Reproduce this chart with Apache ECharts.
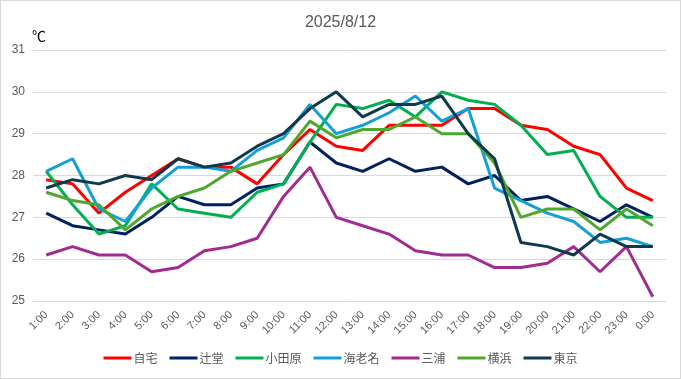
<!DOCTYPE html>
<html>
<head>
<meta charset="utf-8">
<script src="https://cdn.jsdelivr.net/npm/echarts@6/dist/echarts.min.js"></script>
<style>
html,body{margin:0;padding:0;background:#fff;}
#chart{width:681px;height:379px;box-sizing:border-box;border:1px solid #d9d9d9;}
</style>
</head>
<body>
<div id="chart"></div>
<script>
const title = '2025/8/12';
const unitLabel = '℃';
const hours = ['1:00','2:00','3:00','4:00','5:00','6:00','7:00','8:00','9:00','10:00','11:00','12:00','13:00','14:00','15:00','16:00','17:00','18:00','19:00','20:00','21:00','22:00','23:00','0:00'];
const seriesNames = ['自宅','辻堂','小田原','海老名','三浦','横浜','東京'];
const jitaku   = [27.9,27.8,27.1,27.6,28.0,28.4,28.2,28.2,27.8,28.5,29.1,28.7,28.6,29.2,29.2,29.2,29.6,29.6,29.2,29.1,28.7,28.5,27.7,27.4];
const tsujido  = [27.1,26.8,26.7,26.6,27.0,27.5,27.3,27.3,27.7,27.8,28.8,28.3,28.1,28.4,28.1,28.2,27.8,28.0,27.4,27.5,27.2,26.9,27.3,27.0];
const odawara  = [28.1,27.3,26.6,26.8,27.8,27.2,27.1,27.0,27.6,27.8,28.8,29.7,29.6,29.8,29.4,30.0,29.8,29.7,29.2,28.5,28.6,27.5,27.0,27.0];
const ebina    = [28.1,28.4,27.2,26.9,27.7,28.2,28.2,28.1,28.6,28.9,29.7,29.0,29.2,29.5,29.9,29.3,29.6,27.7,27.4,27.1,26.9,26.4,26.5,26.3];
const miura    = [26.1,26.3,26.1,26.1,25.7,25.8,26.2,26.3,26.5,27.5,28.2,27.0,26.8,26.6,26.2,26.1,26.1,25.8,25.8,25.9,26.3,25.7,26.3,25.1];
const yokohama = [27.6,27.4,27.3,26.7,27.2,27.5,27.7,28.1,28.3,28.5,29.3,28.9,29.1,29.1,29.4,29.0,29.0,28.3,27.0,27.2,27.2,26.7,27.2,26.8];
const tokyo    = [27.7,27.9,27.8,28.0,27.9,28.4,28.2,28.3,28.7,29.0,29.6,30.0,29.4,29.7,29.7,29.9,29.0,28.4,26.4,26.3,26.1,26.6,26.3,26.3];
const colors = ['#FF0000','#002060','#00B050','#12A0D7','#A02B93','#4EA72E','#0F3A4E'];
const allData = [jitaku,tsujido,odawara,ebina,miura,yokohama,tokyo];

const chart = echarts.init(document.getElementById('chart'), null, {renderer:'canvas'});
const font = '"Noto Sans CJK JP","Liberation Sans",sans-serif';
chart.setOption({
  animation:false,
  color:colors,
  textStyle:{fontFamily:font},
  title:{text:title,left:'center',top:9,textStyle:{fontSize:16,fontWeight:'normal',color:'#595959',fontFamily:'"Liberation Sans",Arial,sans-serif'}},
  graphic:[{type:'text',left:31,top:28,style:{text:unitLabel,fontSize:14,fill:'#000',fontFamily:font}}],
  legend:{
    bottom:9,left:'center',itemWidth:28,itemHeight:3,itemGap:12,icon:'rect',
    textStyle:{fontSize:12,color:'#595959',padding:[0,0,0,-3]},
    data:seriesNames
  },
  grid:{left:32,right:14,top:49,bottom:77,containLabel:false},
  xAxis:{
    type:'category',data:hours,boundaryGap:true,
    axisLine:{show:false},axisTick:{show:false},
    axisLabel:{rotate:45,fontSize:11,color:'#595959',margin:12,interval:0,fontFamily:'"Liberation Sans",Arial,sans-serif'}
  },
  yAxis:{
    type:'value',min:25,max:31,interval:1,
    axisLine:{show:false},axisTick:{show:false},
    axisLabel:{fontSize:12,color:'#595959',margin:8,fontFamily:'"Liberation Sans",Arial,sans-serif'},
    splitLine:{lineStyle:{color:'#d9d9d9',width:1}}
  },
  series:seriesNames.map((n,i)=>({
    name:n,type:'line',data:allData[i],showSymbol:false,symbol:'none',
    lineStyle:{width:3,color:colors[i]},itemStyle:{color:colors[i]}
  }))
});
</script>
</body>
</html>
